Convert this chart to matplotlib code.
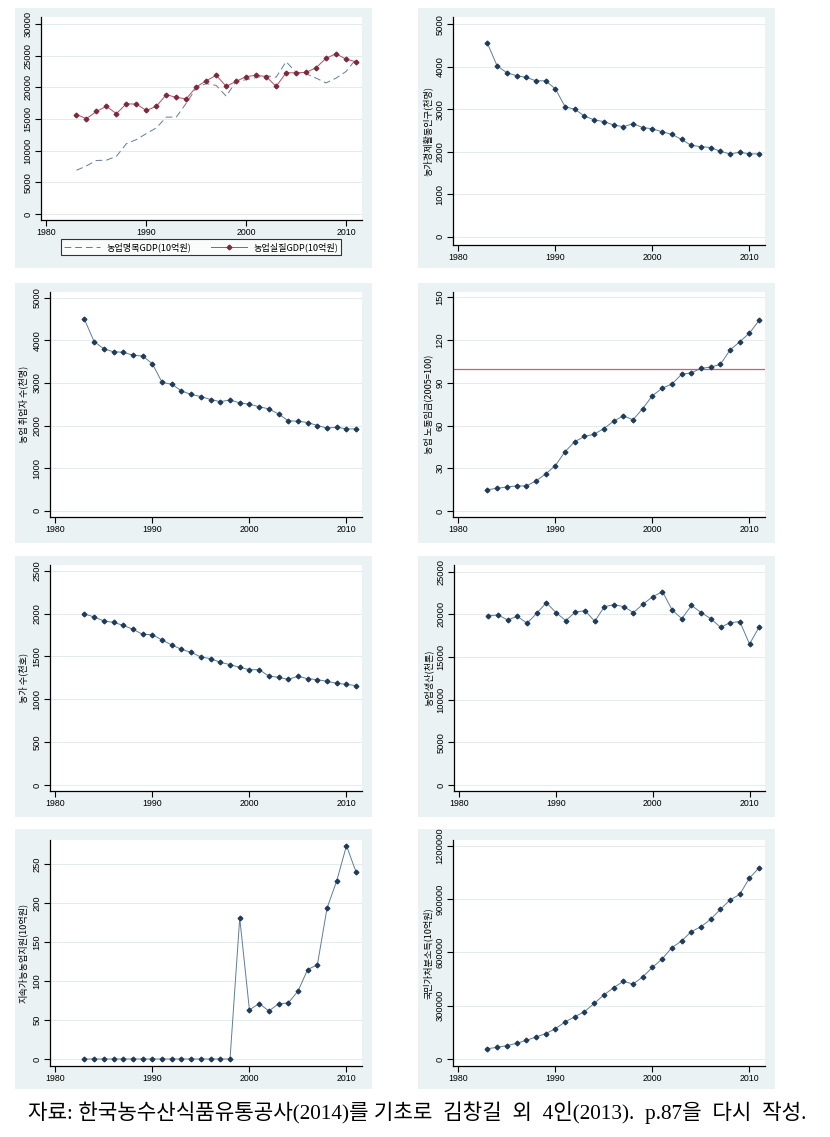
import matplotlib
matplotlib.use("Agg")
import matplotlib.pyplot as plt
from matplotlib.patches import Rectangle

plt.rcParams['font.family'] = ['Liberation Sans', 'Noto Sans CJK KR', 'DejaVu Sans']

# Data
years = list(range(1983, 2012))

gdp_nominal = [6900, 7600, 8450, 8500, 9100, 11100, 11750, 12700, 13600, 15300,
               15300, 17500, 19900, 20600, 20300, 18600, 20950, 21200, 21550, 21850,
               21600, 24050, 22350, 22150, 21450, 20700, 21450, 22500, 24450]
gdp_real = [15700, 15050, 16200, 17000, 15850, 17400, 17350, 16350, 17000, 18850,
            18400, 18200, 20050, 21050, 21900, 20150, 20950, 21700, 21900, 21700,
            20150, 22300, 22300, 22350, 23100, 24600, 25300, 24450, 24050]
farm_active_pop = [4550, 4020, 3860, 3790, 3750, 3670, 3670, 3480, 3060, 3000,
                   2840, 2750, 2710, 2630, 2590, 2660, 2570, 2540, 2470, 2410,
                   2290, 2150, 2120, 2100, 2010, 1950, 1990, 1950, 1950]
farm_workers = [4490, 3970, 3800, 3730, 3720, 3650, 3630, 3450, 3010, 2970,
                2810, 2730, 2680, 2610, 2560, 2600, 2530, 2500, 2440, 2390,
                2270, 2110, 2100, 2070, 2000, 1940, 1960, 1920, 1920]
farm_wage = [15.0, 15.9, 16.9, 17.6, 17.6, 21.1, 26.0, 31.9, 41.7, 48.7,
             52.3, 53.9, 57.9, 63.0, 66.8, 64.0, 71.9, 80.9, 86.2, 89.1,
             95.9, 97.0, 100.1, 101.0, 102.9, 113.0, 118.8, 124.9, 133.8]
wage_ref = 100
farm_households = [1995, 1960, 1913, 1897, 1862, 1816, 1757, 1754, 1691, 1633,
                   1582, 1547, 1493, 1474, 1431, 1404, 1372, 1345, 1345, 1271,
                   1256, 1232, 1268, 1240, 1229, 1209, 1186, 1174, 1159]
farm_output = [19840, 19920, 19340, 19770, 18950, 20120, 21370, 20200, 19260, 20270,
               20430, 19180, 20900, 21130, 20900, 20200, 21210, 22070, 22660, 20510,
               19490, 21050, 20200, 19490, 18480, 19020, 19140, 16520, 18520]
sustain_support = [0, 0, 0, 0, 0, 0, 0, 0, 0, 0, 0, 0, 0, 0, 0, 0,
                   180.7, 62.9, 71.1, 61.6, 70.6, 71.9, 86.9, 114.7, 120.7,
                   193.5, 228.6, 273.5, 239.3]
disp_income = [58200, 65700, 75100, 88300, 105200, 123900, 142700, 170900, 208500, 238500,
               266700, 313600, 360600, 401900, 437600, 422500, 462000, 516400, 563400, 627200,
               664800, 717400, 745500, 786900, 843200, 895800, 927700, 1019700, 1077900]

xticks = [1980, 1990, 2000, 2010]

W, H = 830, 1137
fig = plt.figure(figsize=(W / 100, H / 100), dpi=100)
fig.patch.set_facecolor('white')

BG = '#eaf2f3'
LINE = '#5f7d96'
MARK = '#1f3b58'
RED = '#b0506a'
KFONT = ['Noto Sans CJK KR', 'DejaVu Sans']


def px_axes(l, t, r, b):
    return fig.add_axes([l / W, 1 - b / H, (r - l) / W, (b - t) / H])


def panel_bg(l, t, r, b):
    fig.add_artist(Rectangle((l / W, 1 - b / H), (r - l) / W, (b - t) / H,
                             transform=fig.transFigure, facecolor=BG,
                             edgecolor='none', zorder=0))


def style(ax, yticks, ylim, ylabel, labelx):
    ax.set_facecolor('white')
    ax.set_xlim(1979.45, 2011.6)
    ax.set_ylim(*ylim)
    ax.set_xticks(xticks)
    ax.set_yticks(yticks)
    ax.set_yticklabels([str(v) for v in yticks], rotation=90, va='center')
    for s in ['top', 'right']:
        ax.spines[s].set_visible(False)
    for s in ['left', 'bottom']:
        ax.spines[s].set_linewidth(0.9)
    ax.tick_params(direction='out', length=4, width=0.8, labelsize=6.3,
                   pad=2, colors='black')
    ax.tick_params(axis='y', labelsize=6.7)
    ax.grid(axis='y', color='#e3eced', linewidth=0.7)
    ax.set_axisbelow(True)
    if ylabel:
        ax.set_ylabel(ylabel, fontsize=6.6, family=KFONT)
        ax.yaxis.set_label_coords(labelx, 0.5)


def series(ax, y):
    ax.plot(years, y, color=LINE, linewidth=0.7, marker='D', markersize=2.4,
            markerfacecolor=MARK, markeredgecolor=MARK, zorder=3)


# Panel backgrounds
for (t, b) in [(8, 268), (283, 543), (556, 817), (829, 1089)]:
    panel_bg(15, t, 372, b)
    panel_bg(418, t, 775, b)

# 1. GDP
ax1 = px_axes(41, 17, 362, 220)
ax1.plot(years, gdp_nominal, color=LINE, linewidth=0.7, dashes=(7, 4),
         label='농업명목GDP(10억원)')
ax1.plot(years, gdp_real, color=RED, linewidth=0.7, marker='D', markersize=2.4,
         markerfacecolor='#7a2a3a', markeredgecolor='#7a2a3a',
         label='농업실질GDP(10억원)')
style(ax1, [0, 5000, 10000, 15000, 20000, 25000, 30000], (-947, 31105), None, 0)
leg = ax1.legend(loc='center', bbox_to_anchor=(201 / W, 1 - 247 / H),
                 bbox_transform=fig.transFigure, ncol=2, numpoints=1,
                 prop={'family': KFONT, 'size': 6.6}, handlelength=3.9,
                 columnspacing=2.2, frameon=True, fancybox=False,
                 borderpad=0.35, handletextpad=0.7)
leg.get_frame().set_edgecolor('black')
leg.get_frame().set_linewidth(0.8)

# 2. farm economically active population
ax2 = px_axes(453, 17, 765, 245)
series(ax2, farm_active_pop)
style(ax2, [0, 1000, 2000, 3000, 4000, 5000], (-195, 5172),
      '농가경제활동인구(천명)', -20 / 312)

# 3. farm workers
ax3 = px_axes(50, 292, 362, 517)
series(ax3, farm_workers)
style(ax3, [0, 1000, 2000, 3000, 4000, 5000], (-148, 5134),
      '농업 취업자 수(천명)', -22 / 312)

# 4. farm wage index
ax4 = px_axes(453, 292, 765, 517)
series(ax4, farm_wage)
ax4.axhline(wage_ref, color='#c2607e', linewidth=0.9, zorder=2)
style(ax4, [0, 30, 60, 90, 120, 150], (-4.2, 153.7),
      '농업 노동임금(2005=100)', -20 / 312)

# 5. farm households
ax5 = px_axes(50, 565, 362, 791)
series(ax5, farm_households)
style(ax5, [0, 500, 1000, 1500, 2000, 2500], (-70, 2566),
      '농가 수(천호)', -22 / 312)

# 6. farm output
ax6 = px_axes(454, 565, 765, 791)
series(ax6, farm_output)
style(ax6, [0, 5000, 10000, 15000, 20000, 25000], (-703, 25780),
      '농업생산(천톤)', -20 / 311)

# 7. sustainable agriculture support
ax7 = px_axes(50, 840, 362, 1066)
series(ax7, sustain_support)
style(ax7, [0, 50, 100, 150, 200, 250], (-9, 280.8),
      '지속가능농업지원(10억원)', -22 / 312)

# 8. national disposable income
ax8 = px_axes(453, 840, 765, 1066)
series(ax8, disp_income)
style(ax8, [0, 300000, 600000, 900000, 1200000], (-39437, 1233800),
      '국민가처분소득(10억원)', -20 / 312)

fig.text(28 / W, 1 - 1113 / H,
         '자료: 한국농수산식품유통공사(2014)를 기초로  김창길  외  4인(2013).  p.87을  다시  작성.',
         fontsize=15.3, family=['Liberation Serif', 'Noto Sans CJK KR'],
         ha='left', va='center')

fig.savefig('out.png', dpi=100)
